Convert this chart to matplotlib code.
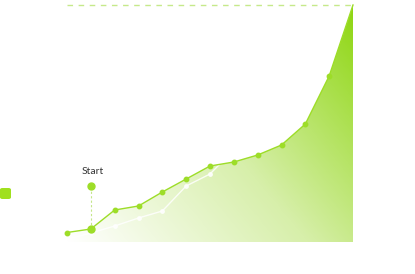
import matplotlib.pyplot as plt
import numpy as np
from matplotlib.colors import LinearSegmentedColormap
from matplotlib.patches import FancyBboxPatch

# values (height above the baseline)
steps = list(range(13))
main_vals = [9.5, 13, 32, 36, 50, 63, 76, 80, 87, 97, 118, 166, 237]
ghost_steps = list(range(8))
ghost_vals = [2.7, 9, 16, 24, 31, 56, 68, 92]
start_idx = 1
start_marker = 56
target = 237

green = '#9ddd28'
dark = '#8ed611'

fig = plt.figure(figsize=(4.15, 2.74), dpi=100)
ax = fig.add_axes([0, 0, 1, 1])
ux = 286 / 12
ax.set_xlim(-67 / ux, (415 - 67) / ux)
ax.set_ylim(-32, 242)
ax.axis('off')

# gradient area under the main line
poly = ax.fill_between(steps, 0, main_vals, color='none', lw=0)
nx, ny = 300, 250
gx, gy = np.meshgrid(np.linspace(0, 1, nx), np.linspace(0, 1, ny))
w, h = 286.0, 237.0
t = (gx * w * w + gy * h * h) / (w * w + h * h)
cmap = LinearSegmentedColormap.from_list('g', ['#ffffff', '#d7efaa', dark])
img = ax.imshow(t, cmap=cmap, origin='lower', aspect='auto',
                extent=[steps[0], steps[-1], 0, target], zorder=1, vmin=0, vmax=1)
img.set_clip_path(poly.get_paths()[0], transform=ax.transData)

# ghost line (white)
ax.plot(ghost_steps, ghost_vals, color='white', lw=1, zorder=2,
        marker='o', ms=2.5, mec='white', mfc='white', alpha=0.85)

# main line
ax.plot(steps, main_vals, color=green, lw=1, zorder=3,
        marker='o', ms=3.2, mfc=green, mec=green, markevery=list(range(12)))

# dashed target line
ax.plot([steps[0], steps[-1]], [target, target], color='#c6e98a', lw=1,
        ls=(0, (4, 4)), zorder=2)

# start annotation
ax.plot([start_idx, start_idx], [main_vals[start_idx], start_marker], color='#c4e68a',
        lw=0.8, ls=(0, (2, 2)), zorder=2)
ax.plot([start_idx, start_idx], [main_vals[start_idx], start_marker], 'o', ms=5,
        color=green, zorder=4)
ax.text(start_idx + 0.07, start_marker + 14, 'Start', ha='center', va='center',
        fontsize=7.5, color='#333333', family='Lato')

# legend-like square at the left edge
sq = FancyBboxPatch((0 / 415, (274 - 199) / 274), 11 / 415, 11 / 274,
                    boxstyle='round,pad=0,rounding_size=0.006', transform=fig.transFigure,
                    color='#a0e01e', lw=0)
fig.patches.append(sq)

plt.savefig('out.png', dpi=100)
plt.close()
